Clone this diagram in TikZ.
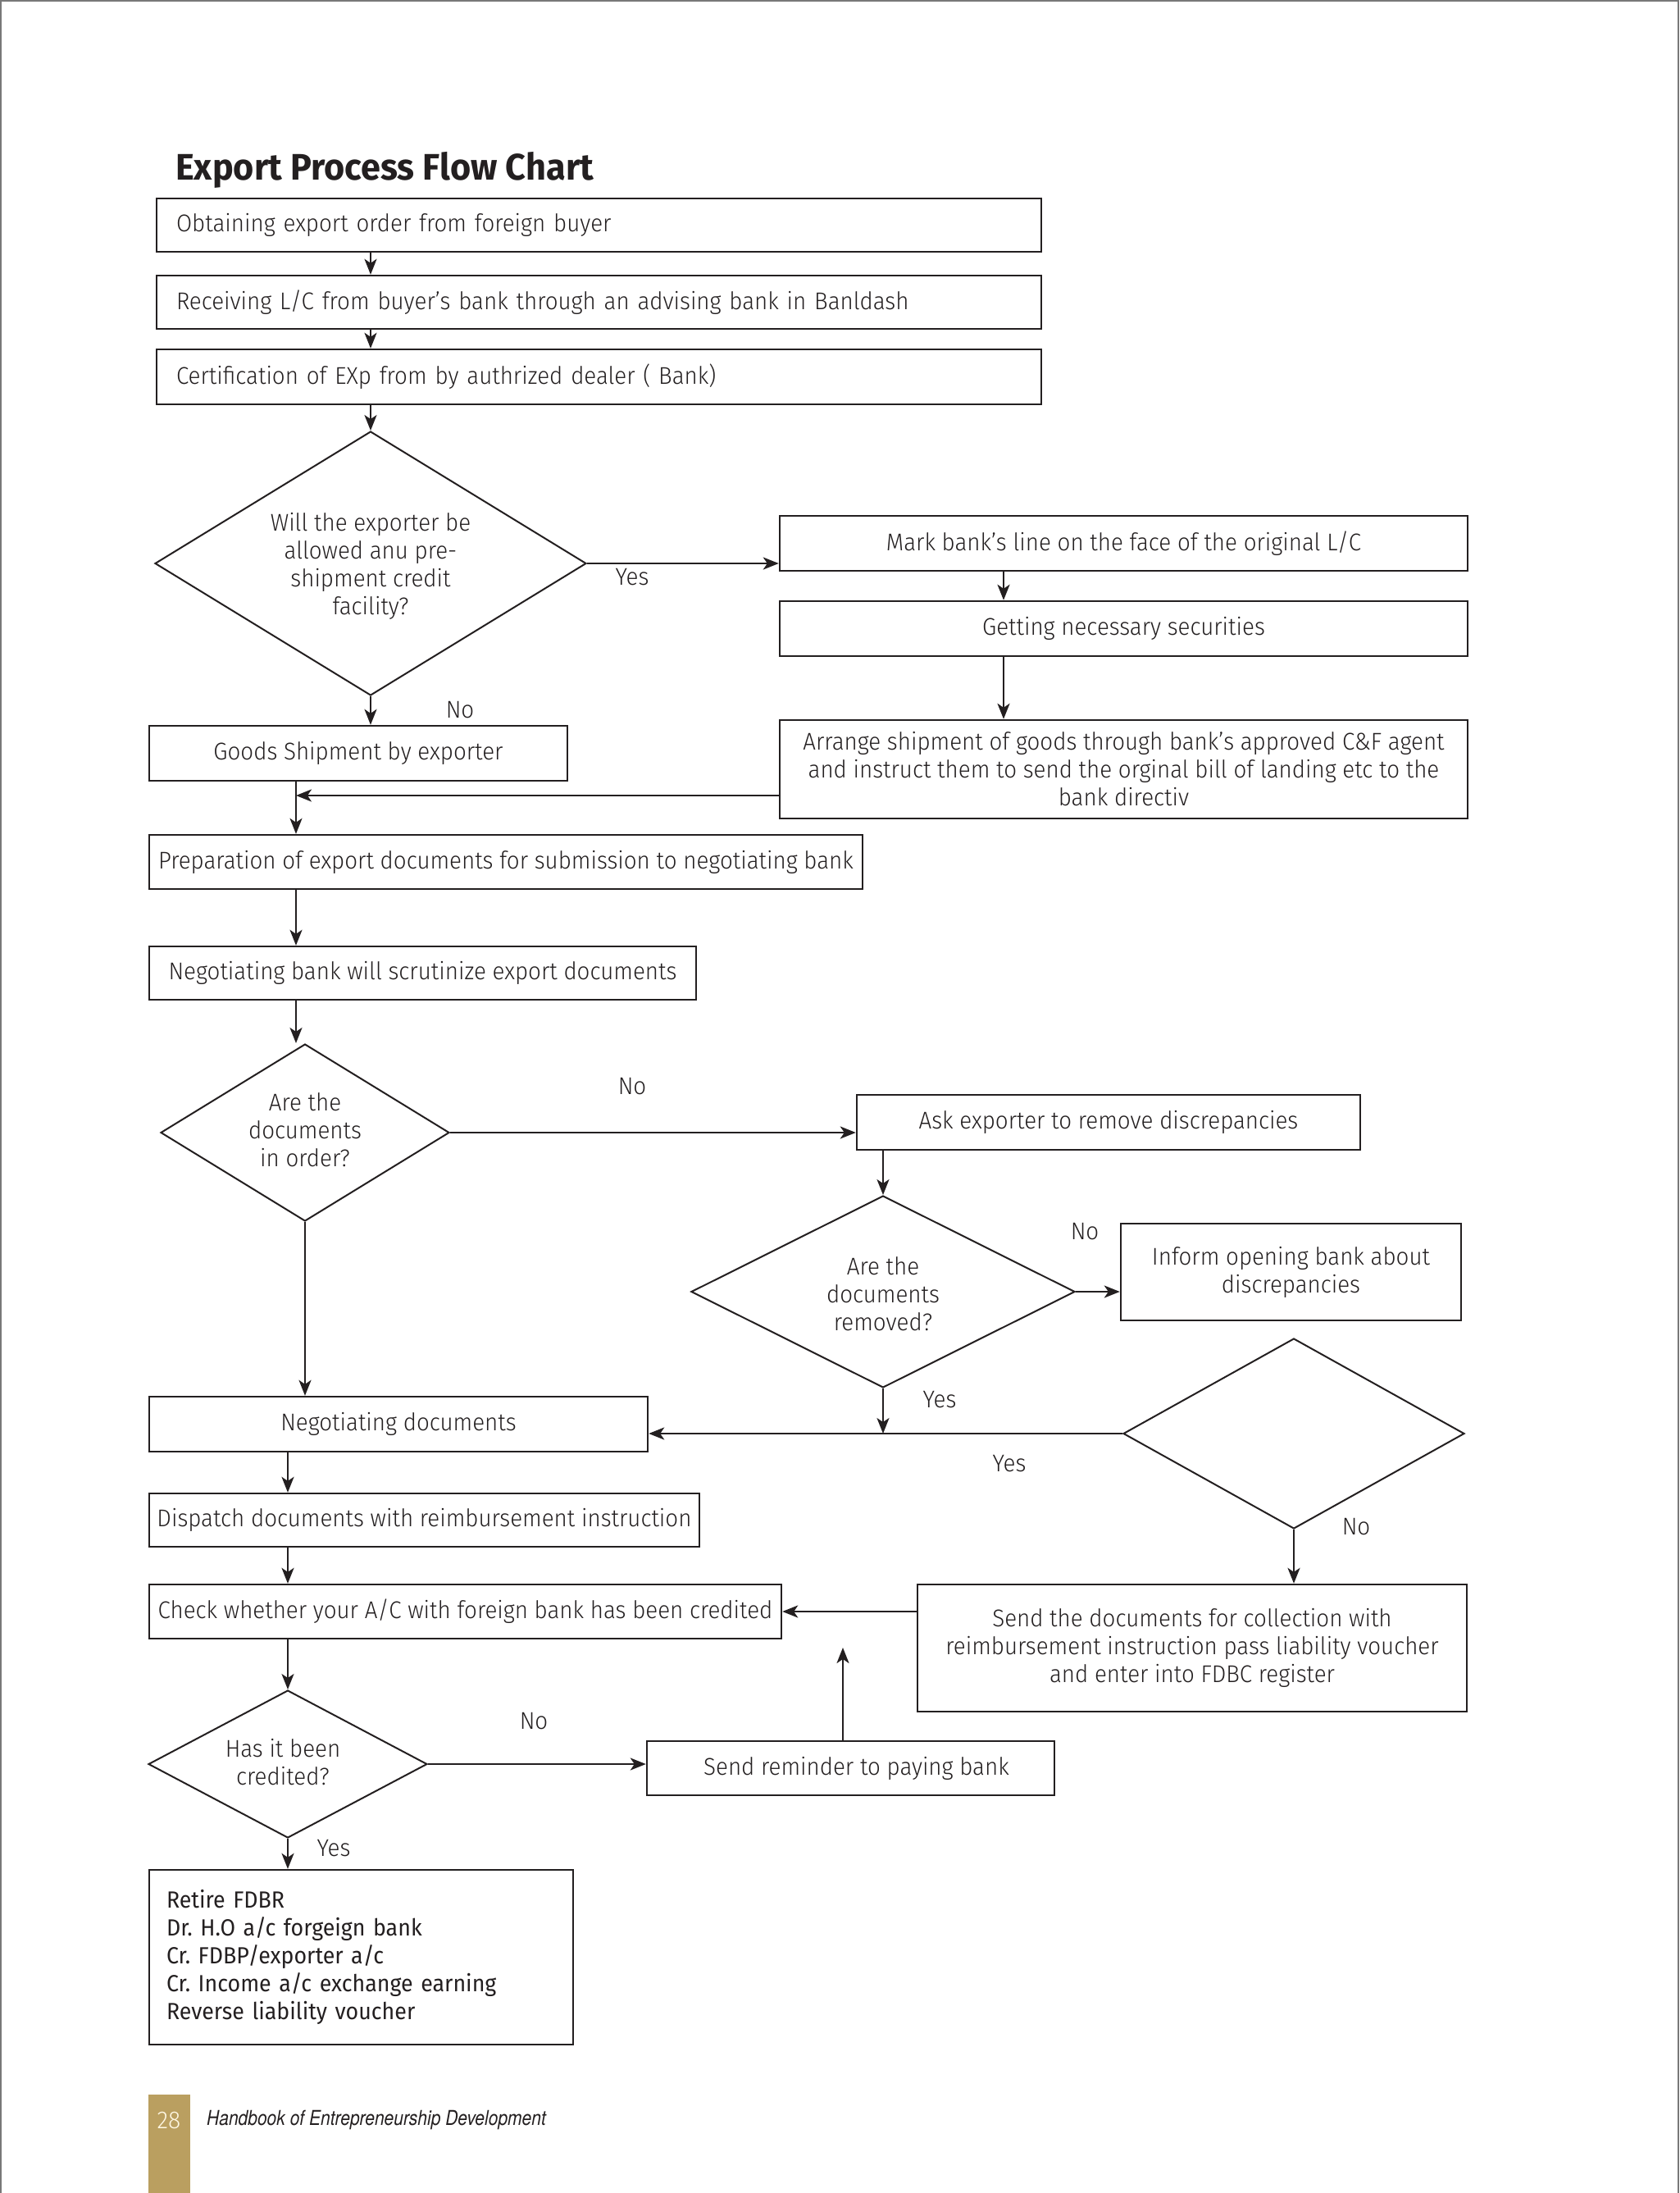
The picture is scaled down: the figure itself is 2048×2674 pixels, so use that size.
\documentclass[tikz,border=0pt]{standalone}
\usepackage{fontspec}
\setmainfont{Fira Sans Light}[FakeStretch=0.94]
\newfontfamily\regfont{Fira Sans}[FakeStretch=0.94]
\newfontfamily\titlefont{Fira Sans Bold}[FakeStretch=0.96]
\newfontfamily\footfont{TeX Gyre Heros}[FakeStretch=0.84]
\usetikzlibrary{shapes.geometric, arrows.meta}
\definecolor{ink}{RGB}{35,31,32}
\definecolor{gold}{RGB}{186,159,96}
\definecolor{cream}{RGB}{255,248,228}
\definecolor{framegray}{RGB}{120,120,120}
\frenchspacing
\begin{document}
\begin{tikzpicture}[x=1pt,y=-1pt,
  every node/.style={text=ink, font=\fontsize{29.5}{34}\selectfont},
  box/.style={draw=ink, line width=2.4pt, rectangle, inner xsep=6pt, inner ysep=0pt, align=center},
  lbox/.style={box, align=left, inner xsep=24pt},
  dia/.style={draw=ink, line width=2pt, diamond, inner sep=0pt},
  dtext/.style={inner sep=0pt, align=center},
  arr/.style={draw=ink, line width=2.2pt, -{Stealth[length=19pt,width=15pt,inset=5pt]}},
  lab/.style={inner sep=0pt}
]
\useasboundingbox (0,0) rectangle (2048,2674);
\draw[framegray, line width=2pt] (1,2674) -- (1,1) -- (2047,1) -- (2047,2674);

\node[anchor=west, inner sep=0pt, font=\titlefont\fontsize{45}{54}\selectfont] (title) at (214,207) {Export Process Flow Chart};

\node[lbox, text width=1031pt, minimum height=65pt] (b1) at (730.5,274.5) {Obtaining export order from foreign buyer};
\node[lbox, text width=1031pt, minimum height=65pt] (b2) at (730.5,368.5) {Receiving L/C from buyer’s bank through an advising bank in Banldash};
\node[lbox, text width=1031pt, minimum height=67pt] (b3) at (730.5,459.5) {Certification of EXp from by authrized dealer ( Bank)};

\node[dia, minimum width=526pt, minimum height=322pt] (d1) at (452,687) {};
\node[dtext] (t1) at (452,690) {Will the exporter be\\allowed anu pre-\\shipment credit\\facility?};

\node[box, minimum width=839pt, minimum height=67pt] (mark) at (1370.5,662.5) {Mark bank’s line on the face of the original L/C};
\node[box, minimum width=839pt, minimum height=67pt] (get) at (1370.5,766.5) {Getting necessary securities};
\node[box, minimum width=839pt, minimum height=120pt] (arrange) at (1370.5,938) {Arrange shipment of goods through bank’s approved C\&F agent\\and instruct them to send the orginal bill of landing etc to the\\bank directiv};
\node[box, minimum width=510pt, minimum height=67pt] (goods) at (437,918.5) {Goods Shipment by exporter};
\node[box, minimum width=870pt, minimum height=66pt, inner xsep=2pt] (prep) at (617,1051) {Preparation of export documents for submission to negotiating bank};
\node[box, minimum width=667pt, minimum height=65pt] (scrut) at (515.5,1186.5) {Negotiating bank will scrutinize export documents};

\node[dia, minimum width=352pt, minimum height=216pt] (d2) at (372,1381) {};
\node[dtext] (t2) at (372,1378) {Are the\\documents\\in order?};
\node[box, minimum width=614pt, minimum height=67pt] (ask) at (1352,1368.5) {Ask exporter to remove discrepancies};
\node[dia, minimum width=468pt, minimum height=234pt] (d3) at (1077,1575) {};
\node[dtext] (t3) at (1077,1578) {Are the\\documents\\removed?};
\node[box, minimum width=415pt, minimum height=118pt] (inform) at (1574.5,1551) {Inform opening bank about\\discrepancies};
\node[dia, minimum width=416pt, minimum height=232pt] (d4) at (1578,1748) {};

\node[box, minimum width=608pt, minimum height=67pt] (negdoc) at (486,1736.5) {Negotiating documents};
\node[box, minimum width=671pt, minimum height=65pt, inner xsep=2pt] (disp) at (517.5,1853.5) {Dispatch documents with reimbursement instruction};
\node[box, minimum width=771pt, minimum height=66pt, inner xsep=2pt] (check) at (567.5,1965) {Check whether your A/C with foreign bank has been credited};
\node[box, minimum width=670pt, minimum height=155pt] (senddoc) at (1454,2009.5) {Send the documents for collection with\\reimbursement instruction pass liability voucher\\and enter into FDBC register};
\node[dia, minimum width=340pt, minimum height=180pt] (d5) at (351,2151) {};
\node[dtext] (t5) at (345,2149) {Has it been\\credited?};
\node[box, minimum width=497pt, minimum height=66pt] (remind) at (1037.5,2156) {\hspace*{14pt}Send reminder to paying bank};
\node[lbox, text width=475pt, inner xsep=21pt, minimum height=213pt, font=\regfont\fontsize{28.5}{34}\selectfont] (retire) at (440.5,2386.5) {Retire FDBR\\Dr. H.O a/c forgeign bank\\Cr. FDBP/exporter a/c\\Cr. Income a/c exchange earning\\Reverse liability voucher};

\node[lab] (lyes1) at (771,704) {Yes};
\node[lab] (lno1) at (561,866) {No};
\node[lab] (lno2) at (771,1325) {No};
\node[lab] (lno3) at (1323,1502) {No};
\node[lab] (lyes2) at (1146,1707) {Yes};
\node[lab] (lyes3) at (1231,1785) {Yes};
\node[lab] (lno4) at (1654,1862) {No};
\node[lab] (lno5) at (651,2099) {No};
\node[lab] (lyes4) at (407,2254) {Yes};

\coordinate (cx1) at (1224,0);
\coordinate (j1) at (361,970);
\coordinate (cx2) at (351,0);
\coordinate (up1) at (1028,2009);

\draw[arr] (b1.south -| d1.north) -- (b2.north -| d1.north);
\draw[arr] (b2.south -| d1.north) -- (b3.north -| d1.north);
\draw[arr] (b3.south -| d1.north) -- (d1.north);
\draw[arr] (d1.east) -- (d1.east -| mark.west);
\draw[arr] (mark.south -| cx1) -- (get.north -| cx1);
\draw[arr] (get.south -| cx1) -- (arrange.north -| cx1);
\draw[arr] (d1.south) -- (d1.south |- goods.north);
\draw[arr] (arrange.west |- j1) -- (j1);
\draw[arr] (goods.south -| j1) -- (prep.north -| j1);
\draw[arr] (prep.south -| j1) -- (scrut.north -| j1);
\draw[arr] (scrut.south -| j1) -- (d2.north -| j1);
\draw[arr] (d2.east) -- (d2.east -| ask.west);
\draw[arr] (ask.south -| d3.north) -- (d3.north);
\draw[arr] (d3.east) -- (d3.east -| inform.west);
\draw[arr] (d3.south) -- (d3.south |- d4.west);
\draw[arr] (d4.west) -- (d4.west -| negdoc.east);
\draw[arr] (d2.south) -- (d2.south |- negdoc.north);
\draw[arr] (d4.south) -- (d4.south |- senddoc.north);
\draw[arr] (negdoc.south -| cx2) -- (disp.north -| cx2);
\draw[arr] (disp.south -| cx2) -- (check.north -| cx2);
\draw[arr] (senddoc.west |- check.east) -- (check.east);
\draw[arr] (check.south -| cx2) -- (d5.north);
\draw[arr] (d5.east) -- (d5.east -| remind.west);
\draw[arr] (remind.north -| up1) -- (up1);
\draw[arr] (d5.south) -- (d5.south |- retire.north);

\fill[gold] (181,2554) rectangle (232,2674);
\node[text=cream, inner sep=0pt, font=\fontsize{30}{36}\selectfont] (pg) at (206,2585) {28};
\node[anchor=west, inner sep=0pt, font=\footfont\itshape\fontsize{25}{30}\selectfont] (foot) at (252,2585) {Handbook of Entrepreneurship Development};
\end{tikzpicture}
\end{document}
